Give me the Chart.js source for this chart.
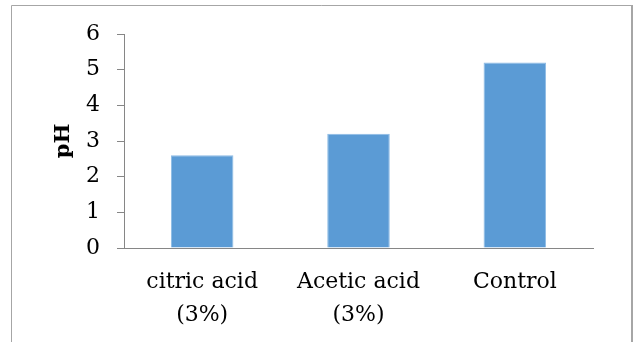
<!DOCTYPE html>
<html><head><meta charset="utf-8">
<script src="https://cdn.jsdelivr.net/npm/chart.js@4/dist/chart.umd.min.js"></script>
<style>html,body{margin:0;padding:0;background:#fff}#wrap{width:634px;height:342px;position:relative}</style>
</head><body><div id="wrap"><canvas id="c" width="634" height="342"></canvas></div>
<script>
const categories = [["citric acid","(3%)"],["Acetic acid","(3%)"],["Control"]];
const phValues = [2.6, 3.2, 5.2];
const yMin = 0, yMax = 6, yStep = 1;
const yAxisTitle = "pH";

const frame = {
  id: 'frame',
  beforeDraw(chart) {
    const ctx = chart.ctx;
    ctx.save();
    ctx.fillStyle = '#fff';
    ctx.fillRect(0, 0, chart.width, chart.height);
    ctx.strokeStyle = '#a6a6a6';
    ctx.lineWidth = 1;
    ctx.beginPath();
    ctx.moveTo(11.5, 400); ctx.lineTo(11.5, 5.5); ctx.lineTo(632, 5.5);
    ctx.stroke();
    ctx.lineWidth = 2;
    ctx.beginPath();
    ctx.moveTo(632, 5); ctx.lineTo(632, 400);
    ctx.stroke();
    ctx.restore();
  }
};

new Chart(document.getElementById('c'), {
  type: 'bar',
  data: {
    labels: categories,
    datasets: [{
      data: phValues,
      backgroundColor: '#5b9bd5',
      borderColor: '#8dbbe5',
      borderWidth: 1,
      categoryPercentage: 1,
      barPercentage: 0.4
    }]
  },
  options: {
    responsive: false,
    animation: false,
    events: [],
    layout: { padding: { left: 0, right: 41, top: 34, bottom: 0 } },
    plugins: { legend: { display: false }, tooltip: { enabled: false }, title: { display: false } },
    scales: {
      x: {
        grid: { display: false, drawTicks: false },
        border: { display: true, color: '#868686', width: 1 },
        ticks: {
          color: '#000',
          padding: 18,
          maxRotation: 0,
          autoSkip: false,
          font: { family: 'DejaVu Serif', size: 22, lineHeight: 1.5 }
        },
        afterFit(s) { s.height = 94; }
      },
      y: {
        min: yMin, max: yMax,
        grid: { display: true, drawOnChartArea: false, drawTicks: true, tickLength: 7, color: '#868686' },
        border: { display: true, color: '#868686', width: 1 },
        ticks: {
          stepSize: yStep,
          color: '#000',
          padding: 17,
          font: { family: 'DejaVu Serif', size: 22 }
        },
        title: {
          display: true,
          text: yAxisTitle,
          color: '#000',
          padding: { top: 51, bottom: 0 },
          font: { family: 'DejaVu Serif', size: 21, weight: 'bold', lineHeight: 1.2 }
        },
        afterFit(s) { s.width = 124; }
      }
    }
  },
  plugins: [frame]
});
</script>
</body></html>
